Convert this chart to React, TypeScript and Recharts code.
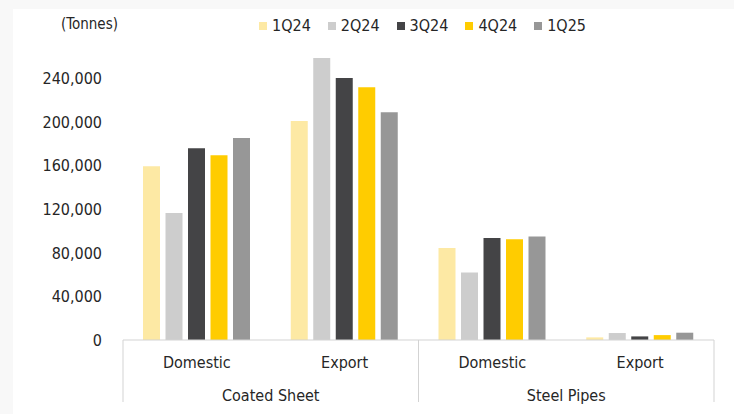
import React from 'react';
import { BarChart, Bar, XAxis, YAxis } from 'recharts';

const categories = ['Domestic', 'Export', 'Domestic', 'Export'];
const groups = ['Coated Sheet', 'Coated Sheet', 'Steel Pipes', 'Steel Pipes'];
const q1_24 = [159500, 201000, 84500, 2400];
const q2_24 = [116500, 259000, 62000, 6400];
const q3_24 = [176000, 240500, 93600, 3300];
const q4_24 = [169500, 232000, 92500, 4500];
const q1_25 = [185500, 209000, 95000, 6700];
const yTicks = [0, 40000, 80000, 120000, 160000, 200000, 240000];

const SERIES = [
  { key: '1Q24', values: q1_24, color: '#FDE9A4' },
  { key: '2Q24', values: q2_24, color: '#CDCDCD' },
  { key: '3Q24', values: q3_24, color: '#444446' },
  { key: '4Q24', values: q4_24, color: '#FFCC00' },
  { key: '1Q25', values: q1_25, color: '#979797' },
];

const FONT = '"DejaVu Sans Condensed", "DejaVu Sans", sans-serif';
const TEXT = '#262626';
const RULE = '#D3D3D3';

const data = categories.map((c, i) => {
  const row: Record<string, string | number> = { name: `${groups[i]}|${c}`, sub: c, group: groups[i] };
  SERIES.forEach((s) => { row[s.key] = s.values[i]; });
  return row;
});

// two-level category tick: sub label, separators and group label
function CategoryTick(props: any) {
  const { x, y, index, payload } = props;
  const half = payload?.offset ?? 74;
  const sub = categories[index];
  const isGroupStart = index === 0 || groups[index] !== groups[index - 1];
  const isGroupEnd = index === categories.length - 1 || groups[index] !== groups[index + 1];
  return (
    <g>
      <text x={x} y={y + 28} textAnchor="middle" fill={TEXT} fontSize={16} fontFamily={FONT}>{sub}</text>
      {isGroupStart && <line x1={x - half} x2={x - half} y1={y} y2={y + 62} stroke={RULE} />}
      {isGroupEnd && <line x1={x + half} x2={x + half} y1={y} y2={y + 62} stroke={RULE} />}
      {isGroupStart && (
        <text x={x + half} y={y + 61} textAnchor="middle" fill={TEXT} fontSize={16} fontFamily={FONT}>
          {groups[index]}
        </text>
      )}
    </g>
  );
}

function LegendRow() {
  return (
    <div style={{ display: 'flex', alignItems: 'center', gap: 17, fontFamily: FONT, fontSize: 16, color: TEXT }}>
      {SERIES.map((s) => (
        <span key={s.key} style={{ display: 'flex', alignItems: 'center' }}>
          <span style={{ width: 8, height: 8, background: s.color, marginRight: 5, display: 'inline-block' }} />
          {s.key}
        </span>
      ))}
    </div>
  );
}

export default function App() {
  return (
    <div style={{ position: 'fixed', left: 0, top: 0, width: 734, height: 414, background: '#F8F8F8' }}>
      <div style={{ position: 'absolute', left: 13, top: 9, right: 0, bottom: 0, background: '#FFFFFF' }} />
      <div style={{ position: 'absolute', left: 0, top: 0 }}>
        <BarChart
          width={734}
          height={414}
          data={data}
          margin={{ top: 35, right: 20, bottom: 14, left: 18 }}
          barSize={17}
          barGap={5.5}
        >
          <XAxis
            dataKey="name"
            interval={0}
            height={60}
            tickLine={false}
            tickSize={0}
            tickMargin={0}
            axisLine={{ stroke: RULE }}
            tick={<CategoryTick />}
          />
          <YAxis
            width={105}
            domain={[0, 280000]}
            ticks={yTicks}
            axisLine={false}
            tickLine={false}
            tickMargin={15}
            tick={{ fill: TEXT, fontSize: 16, fontFamily: FONT }}
            tickFormatter={(v: number) => v.toLocaleString('en-US')}
          />
          {SERIES.map((s) => (
            <Bar key={s.key} dataKey={s.key} fill={s.color} isAnimationActive={false} />
          ))}
        </BarChart>
      </div>
      <div style={{ position: 'absolute', left: 61, top: 15, fontFamily: FONT, fontSize: 15, color: TEXT }}>
        (Tonnes)
      </div>
      <div style={{ position: 'absolute', left: 259, top: 16 }}>
        <LegendRow />
      </div>
    </div>
  );
}
